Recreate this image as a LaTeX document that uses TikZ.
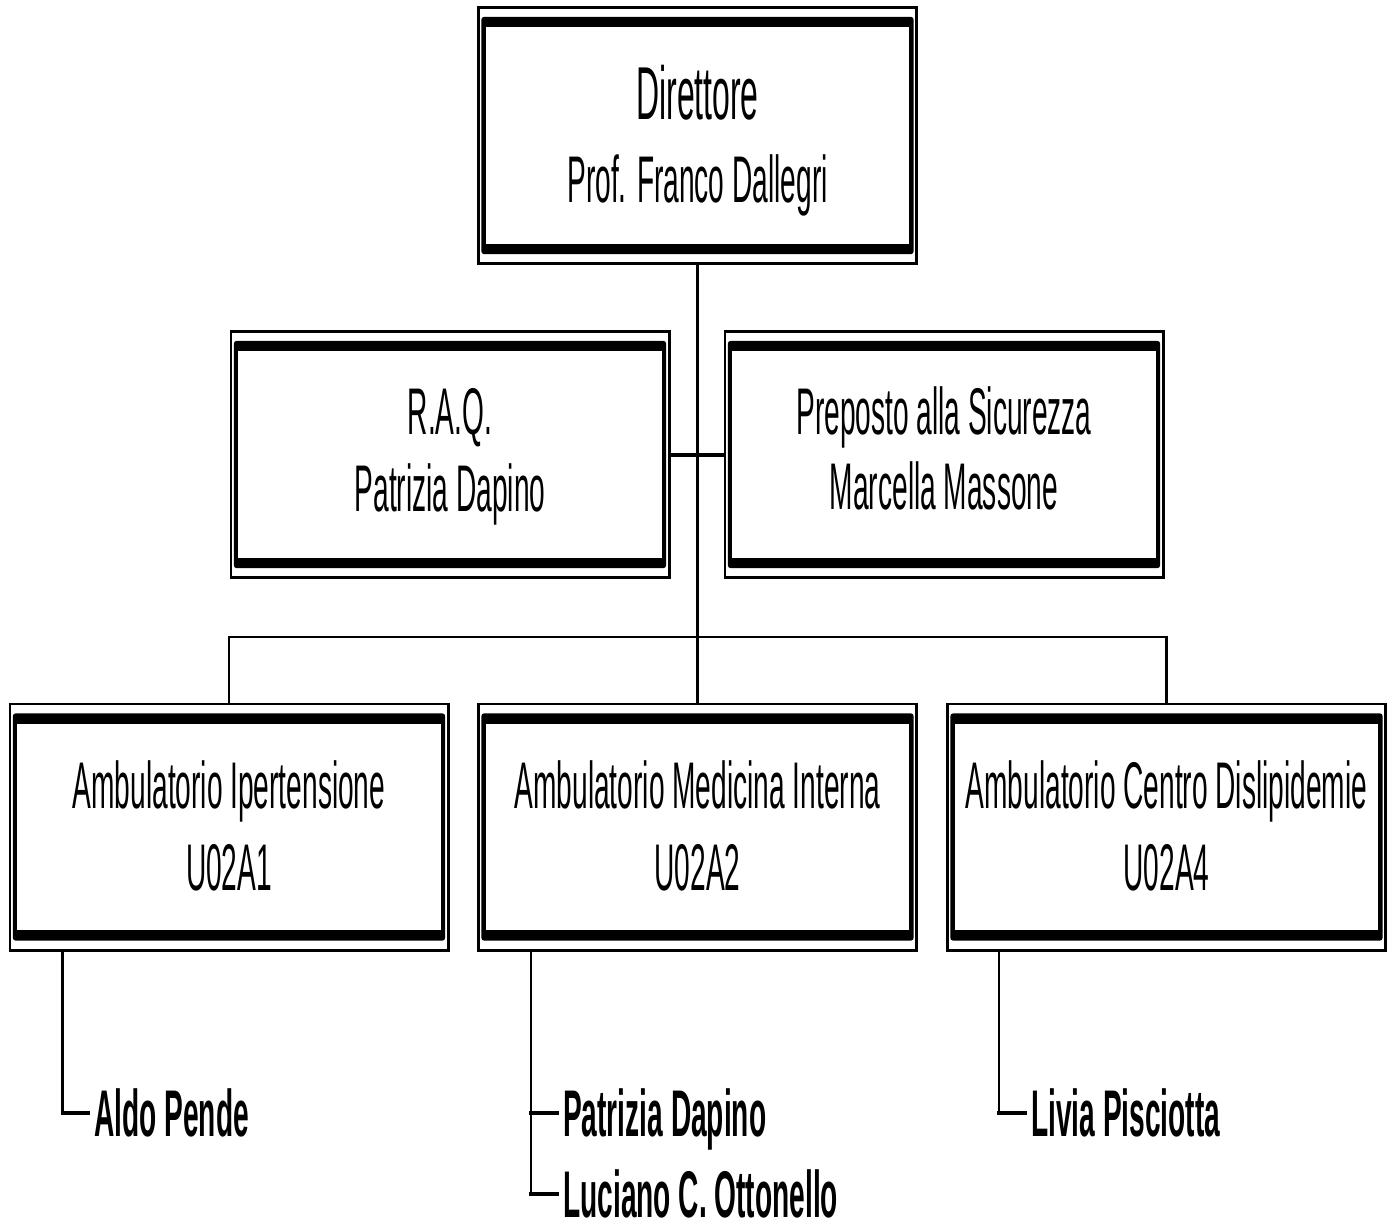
\documentclass[tikz,border=0pt]{standalone}
\usepackage{fontspec}
\setmainfont{Liberation Sans}[FakeStretch=0.426]
\begin{document}
\begin{tikzpicture}[x=1pt,y=-1pt,
  orgbox/.style={draw, line width=2.6pt, inner sep=0pt,
    minimum width=438.4pt, minimum height=246.4pt,
    path picture={
      \fill[rounded corners=3pt] ([xshift=3pt,yshift=-9.5pt]path picture bounding box.north west) rectangle ([xshift=-3pt,yshift=9.5pt]path picture bounding box.south east);
      \fill[white] ([xshift=7.5pt,yshift=-20pt]path picture bounding box.north west) rectangle ([xshift=-7.5pt,yshift=20pt]path picture bounding box.south east);
    }},
  boxtext/.style={align=center, inner sep=0pt},
  person/.style={anchor=west, font=\bfseries\fontsize{66}{77}\selectfont,
    inner xsep=6pt, inner ysep=0pt, text height=47.3pt, text depth=0pt},
  tree/.style={line width=2.6pt},
  tick/.style={line width=3.4pt, line cap=rect},
  link/.style={line width=4pt}
]
\useasboundingbox (0,0) rectangle (1392,1221);

% boxes
\node[orgbox, minimum height=256.4pt] (dir) at (697.5,135.5) {};
\node[orgbox] (raq) at (450,454.5) {};
\node[orgbox] (prep) at (944,454.5) {};
\node[orgbox] (b1) at (229,827) {};
\node[orgbox] (b2) at (697.5,827) {};
\node[orgbox] (b3) at (1166.5,827) {};

% box texts
\node[boxtext, font=\fontsize{66}{83}\selectfont] (dirT) at (697.5,140.6)
  {{\fontsize{75}{83}\selectfont Direttore}\\Prof. Franco Dallegri};
\node[boxtext, font=\fontsize{66}{77}\selectfont] (raqT) at (450,456.8)
  {R.A.Q.\\Patrizia Dapino};
\node[boxtext, font=\fontsize{66}{75}\selectfont] (prepT) at (944,448.9)
  {Preposto alla Sicurezza\\Marcella Massone};
\node[boxtext, font=\fontsize{66}{82}\selectfont] (b1T) at (229,825.4)
  {Ambulatorio Ipertensione\\U02A1};
\node[boxtext, font=\fontsize{66}{82}\selectfont] (b2T) at (697.5,825.4)
  {Ambulatorio Medicina Interna\\U02A2};
\node[boxtext, font=\fontsize{66}{82}\selectfont] (b3T) at (1166.5,825.4)
  {Ambulatorio Centro Dislipidemie\\U02A4};

% connectors between boxes
\coordinate (bus) at (697.5,637);
\draw[tree] (dir.south) -- (b2.north);
\draw[tree] (b1.north) |- (bus) -| (b3.north);
\draw[link] (raq.east) -- (prep.west);

% people
\node[person] (aldo) at (88,1113) {Aldo Pende};
\node[person] (pat) at (557,1113) {Patrizia Dapino};
\node[person] (luc) at (557,1194) {Luciano C. Ottonello};
\node[person] (liv) at (1025,1113) {Livia Pisciotta};

\coordinate (v1) at ([xshift=54pt]b1.south west);
\coordinate (v2) at ([xshift=54pt]b2.south west);
\coordinate (v3) at ([xshift=53pt]b3.south west);

\draw[tree] (v1) -- (v1 |- aldo.west);
\draw[tick] (v1 |- aldo.west) -- (aldo.west);
\draw[tree] (v2) -- (v2 |- luc.west);
\draw[tick] (v2 |- pat.west) -- (pat.west);
\draw[tick] (v2 |- luc.west) -- (luc.west);
\draw[tree] (v3) -- (v3 |- liv.west);
\draw[tick] (v3 |- liv.west) -- (liv.west);
\end{tikzpicture}
\end{document}
